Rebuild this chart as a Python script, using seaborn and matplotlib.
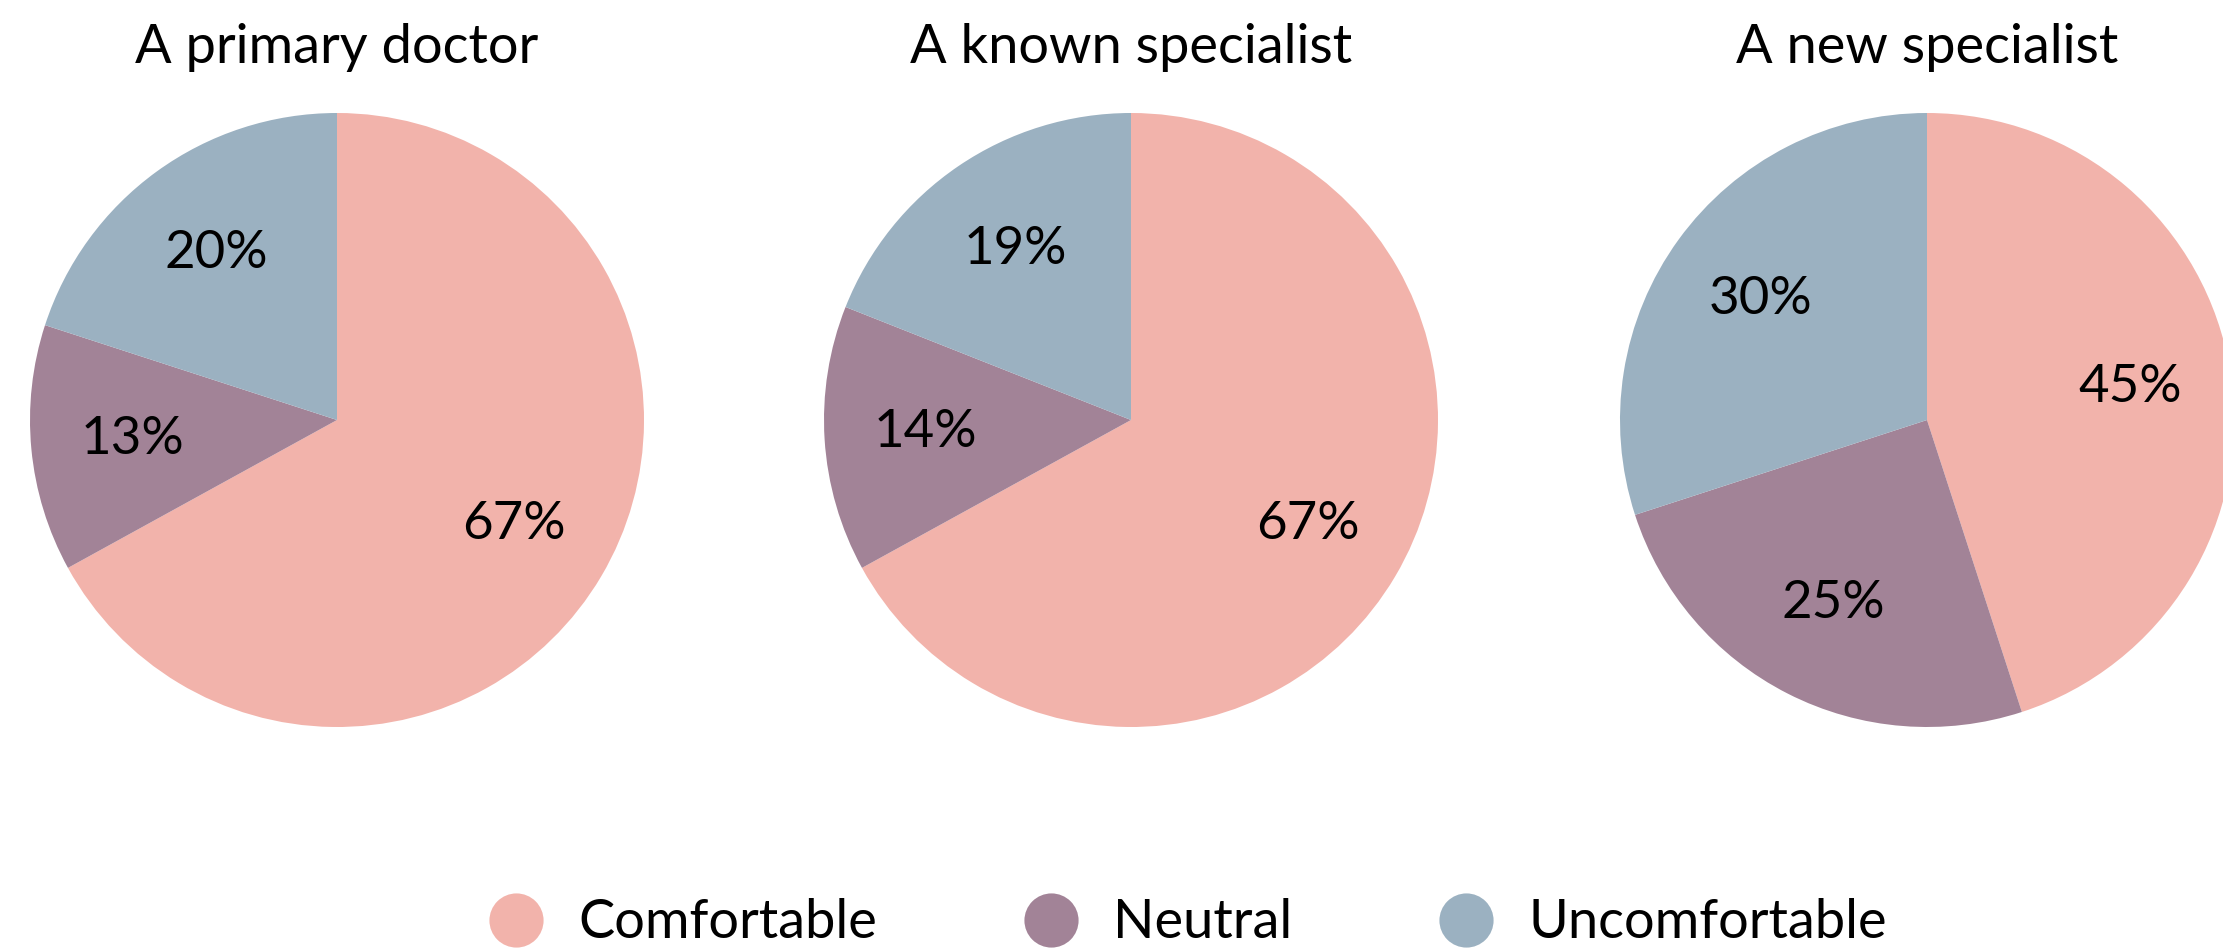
import matplotlib
matplotlib.use("Agg")
import matplotlib.pyplot as plt
from matplotlib.lines import Line2D
import seaborn as sns

# Survey: comfort level seeing each type of clinician
titles = ["A primary doctor", "A known specialist", "A new specialist"]
categories = ["Comfortable", "Neutral", "Uncomfortable"]
comfortable = [67, 67, 45]
neutral = [13, 14, 25]
uncomfortable = [20, 19, 30]

colors = ["#F2B3AB", "#A28397", "#9BB1C1"]

sns.set_theme(style="white")
plt.rcParams["font.family"] = ["Lato", "DejaVu Sans"]
plt.rcParams["text.color"] = "black"

W, H = 2223, 948
fig = plt.figure(figsize=(W / 100, H / 100), dpi=100)
palette = sns.color_palette(colors)

centers_x = [337, 1131, 1927]
center_y = 420
radius_px = 307

for i, title in enumerate(titles):
    cx = centers_x[i]
    ax = fig.add_axes([
        (cx - radius_px) / W,
        1 - (center_y + radius_px) / H,
        2 * radius_px / W,
        2 * radius_px / H,
    ])
    values = [comfortable[i], neutral[i], uncomfortable[i]]
    ax.pie(
        values,
        colors=palette,
        startangle=90,
        counterclock=False,
        autopct=lambda p: f"{p:.0f}%",
        pctdistance=0.67,
        textprops={"fontsize": 38, "color": "black"},
        wedgeprops={"linewidth": 0},
    )
    ax.set_xlim(-1, 1)
    ax.set_ylim(-1, 1)
    ax.set_aspect("equal")
    ax.axis("off")
    fig.text(cx / W, 1 - 47 / H, title, ha="center", va="center",
             fontsize=39, color="black")

handles = [
    Line2D([0], [0], marker="o", linestyle="none", markersize=39,
           markerfacecolor=c, markeredgewidth=0)
    for c in palette
]
fig.legend(
    handles, categories,
    loc="center", bbox_to_anchor=(1188 / W, 1 - 923 / H),
    ncol=3, frameon=False, fontsize=39, labelcolor="black",
    handlelength=1.0, handletextpad=0.65, columnspacing=2.7,
)

fig.savefig("out.png", dpi=100)
